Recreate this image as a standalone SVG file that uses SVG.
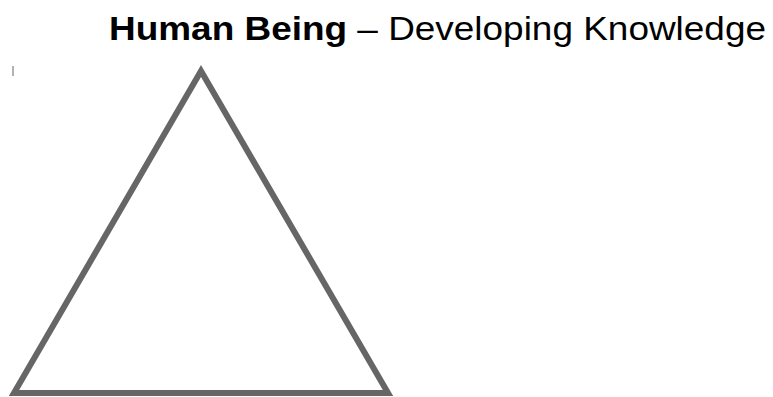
<svg xmlns="http://www.w3.org/2000/svg" width="773" height="397" viewBox="0 0 773 397">
<style>
.title{font-family:"Liberation Sans",Arial,sans-serif;font-size:33.5px;fill:#000}
.tri{fill:none;stroke:#666;stroke-width:6;stroke-linejoin:miter}
</style>
<rect width="773" height="397" fill="#fff"/>
<g id="title">
<text class="title" x="109" y="40" textLength="657" lengthAdjust="spacingAndGlyphs"><tspan font-weight="bold">Human Being</tspan> – Developing Knowledge</text>
</g>
<g id="mark">
<line x1="13" y1="66" x2="13" y2="76" stroke="#999" stroke-width="1.5"/>
</g>
<g id="triangle">
<polygon class="tri" points="201,71 388,393 14,393"/>
</g>
<g id="connectors"/>
</svg>
